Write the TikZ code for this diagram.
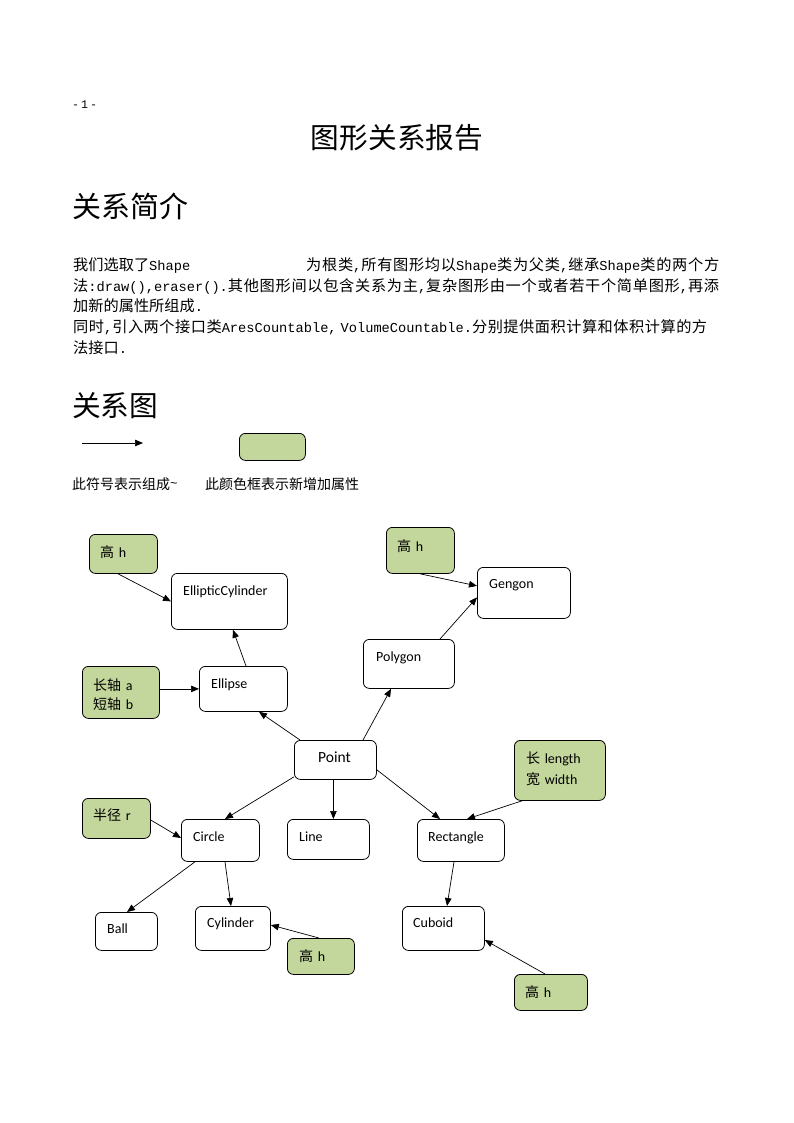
\documentclass[tikz,border=0pt]{standalone}
\usepackage{fontspec}
\usetikzlibrary{arrows.meta}
\newfontfamily\cjk{Noto Sans CJK SC}
\newfontfamily\monof[Scale=0.9]{Liberation Mono}
\newfontfamily\calib{Carlito}
\definecolor{attr}{RGB}{195,214,155}
\XeTeXlinebreaklocale "zh"
\XeTeXlinebreakskip=0pt plus 4pt
\newcommand\zhx[1]{{\cjk #1}}
\newcommand\mnx[1]{{\monof #1}}
\newcommand\fullline[1]{\noindent\parfillskip=0pt\relax #1\par}
\begin{document}
\begin{tikzpicture}[x=1pt,y=-1pt,
  cls/.style={draw=black, line width=0.8pt, rounded corners=6pt, fill=white, inner sep=0pt, anchor=north west},
  attrbox/.style={cls, fill=attr},
  arr/.style={line width=0.7pt, -{Triangle[length=8pt,width=6.5pt]}},
  lbl/.style={anchor=base west, inner sep=0pt, font=\calib\fontsize{14}{16}\selectfont},
  albl/.style={anchor=base west, inner sep=0pt, font=\fontsize{14}{19}\selectfont, align=left},
  body/.style={anchor=base west, inner sep=0pt, font=\fontsize{15.2}{18}\selectfont},
  jline/.style={body, align=justify},
  head/.style={anchor=base west, inner sep=0pt, font=\cjk\fontsize{29}{32}\selectfont}
]
\useasboundingbox (0,0) rectangle (794,1123);
\fill[white] (0,0) rectangle (794,1123);

% page number and headings
\node[anchor=base west, inner sep=0pt, font=\monof\fontsize{13}{13}\selectfont] (pnum) at (72,109) {-\kern2pt1\kern2pt-};
\node[anchor=base, inner sep=0pt, font=\cjk\fontsize{28.7}{32}\selectfont] (title) at (397,149) {图形关系报告};
\node[head] (h1) at (72,218) {关系简介};

% body text
\node[body] (t1a) at (73,270) {\zhx{我们选取了}\mnx{Shape}};
\node[jline, text width=413pt] (t1b) at (306,270) {\fullline{\zhx{为根类}\mnx{,}\zhx{所有图形均以}\mnx{Shape}\zhx{类为父类}\mnx{,}\zhx{继承}\mnx{Shape}\zhx{类的两个方}}};
\node[jline, text width=646pt] (t2) at (73,291) {\fullline{\zhx{法}\mnx{:draw(),eraser().}\zhx{其他图形间以包含关系为主}\mnx{,}\zhx{复杂图形由一个或者若干个简单图形}\mnx{,}\zhx{再添}}};
\node[body] (t3) at (73,311) {\zhx{加新的属性所组成}\mnx{.}};
\node[jline, text width=634pt] (t4) at (73,332) {\fullline{\zhx{同时}\mnx{,}\zhx{引入两个接口类}\mnx{AresCountable,\kern4pt VolumeCountable.}\zhx{分别提供面积计算和体积计算的方}}};
\node[body] (t5) at (73,353) {\zhx{法接口}\mnx{.}};

\node[head, font=\cjk\fontsize{28.7}{32}\selectfont] (h2) at (72,416) {关系图};

% legend
\coordinate (lga) at (82,443);
\coordinate (lgb) at (143,443);
\draw[arr] (lga) -- (lgb);
\node[attrbox, minimum width=66, minimum height=27] (lgbox) at (239,433) {};
\node[albl, font=\cjk\fontsize{14}{16}\selectfont] (lgt1) at (72,489) {此符号表示组成\raisebox{2pt}{\mnx{\textasciitilde}}};
\node[albl, font=\cjk\fontsize{14}{16}\selectfont] (lgt2) at (205,489) {此颜色框表示新增加属性};

% class boxes
\node[cls, minimum width=116, minimum height=56] (ec) at (171,573) {};
\node[cls, minimum width=88, minimum height=45] (el) at (199,666) {};
\node[cls, minimum width=93, minimum height=51] (gg) at (477,567) {};
\node[cls, minimum width=91, minimum height=49] (pg) at (363,639) {};
\node[cls, minimum width=82, minimum height=39] (pt) at (294,740) {};
\node[cls, minimum width=78, minimum height=42] (ci) at (181,819) {};
\node[cls, minimum width=82, minimum height=40] (ln) at (287,819) {};
\node[cls, minimum width=87, minimum height=42] (rc) at (417,819) {};
\node[cls, minimum width=62, minimum height=38] (ba) at (95,912) {};
\node[cls, minimum width=75, minimum height=44] (cy) at (195,906) {};
\node[cls, minimum width=82, minimum height=44] (cb) at (402,906) {};

\node[lbl] (ect) at (183,595) {EllipticCylinder};
\node[lbl] (elt) at (211,688) {Ellipse};
\node[lbl] (ggt) at (489,588) {Gengon};
\node[lbl] (pgt) at (376,661) {Polygon};
\node[lbl, font=\calib\fontsize{15.5}{17}\selectfont] (ptt) at (318,762) {Point};
\node[lbl] (cit) at (193,841) {Circle};
\node[lbl] (lnt) at (299,841) {Line};
\node[lbl] (rct) at (428,841) {Rectangle};
\node[lbl] (bat) at (107,933) {Ball};
\node[lbl] (cyt) at (207,927) {Cylinder};
\node[lbl] (cbt) at (413,927) {Cuboid};

% attribute boxes
\node[attrbox, minimum width=68, minimum height=39] (gh1) at (89,534) {};
\node[attrbox, minimum width=77, minimum height=52] (ab) at (82,666) {};
\node[attrbox, minimum width=68, minimum height=46] (gh2) at (386,527) {};
\node[attrbox, minimum width=91, minimum height=60] (lw) at (514,740) {};
\node[attrbox, minimum width=68, minimum height=40] (rr) at (82,798) {};
\node[attrbox, minimum width=67, minimum height=36] (gh3) at (287,938) {};
\node[attrbox, minimum width=73, minimum height=36] (gh4) at (514,974) {};

\node[albl] (gh1t) at (100,557) {\zhx{高} {\calib h}};
\node[albl] (gh2t) at (397,551) {\zhx{高} {\calib h}};
\node[albl] (gh3t) at (299,961) {\zhx{高} {\calib h}};
\node[albl] (gh4t) at (525,997) {\zhx{高} {\calib h}};
\node[albl] (abt1) at (93,690) {\zhx{长轴} {\calib a}};
\node[albl] (abt2) at (93,709) {\zhx{短轴} {\calib b}};
\node[albl] (rrt) at (93,820) {\zhx{半径} {\calib r}};
\node[albl] (lwt1) at (526,763) {\zhx{长} {\calib length}};
\node[albl] (lwt2) at (526,784) {\zhx{宽} {\calib width}};

% connectors
\draw[arr] ([xshift=29]gh1.south west) -- (ec.west);
\draw[arr] ([xshift=47]el.north west) -- ([xshift=62]ec.south west);
\draw[arr] (el.west -| ab.east) -- (el.west);
\draw[arr] ([xshift=6]pt.north west) -- ([xshift=60]el.south west);
\draw[arr] ([xshift=69]pt.north west) -- ([xshift=28]pg.south west);
\draw[arr] ([xshift=77]pg.north west) -- ([yshift=-4.5]gg.west);
\draw[arr] ([xshift=34]gh2.south west) -- ([yshift=7]gg.west);
\draw[arr] ([yshift=3]pt.south west) -- ([xshift=44]ci.north west);
\draw[arr] ([xshift=-2]pt.south) -- ([xshift=-2]pt.south |- ln.north);
\draw[arr] ([yshift=10]pt.south east) -- ([xshift=23]rc.north west);
\draw[arr] ([xshift=8]lw.south west) -- ([xshift=50]rc.north west);
\draw[arr] ([yshift=-22]rr.north east) -- ([yshift=-19]ci.north west);
\draw[arr] ([xshift=14]ci.south west) -- ([xshift=32]ba.north west);
\draw[arr] ([xshift=44]ci.south west) -- ([xshift=36]cy.north west);
\draw[arr] ([xshift=32]gh3.north west) -- ([yshift=-19]cy.north east);
\draw[arr] ([xshift=37]rc.south west) -- ([xshift=45]cb.north west);
\draw[arr] ([xshift=31]gh4.north west) -- ([yshift=-34]cb.north east);
\end{tikzpicture}
\end{document}
